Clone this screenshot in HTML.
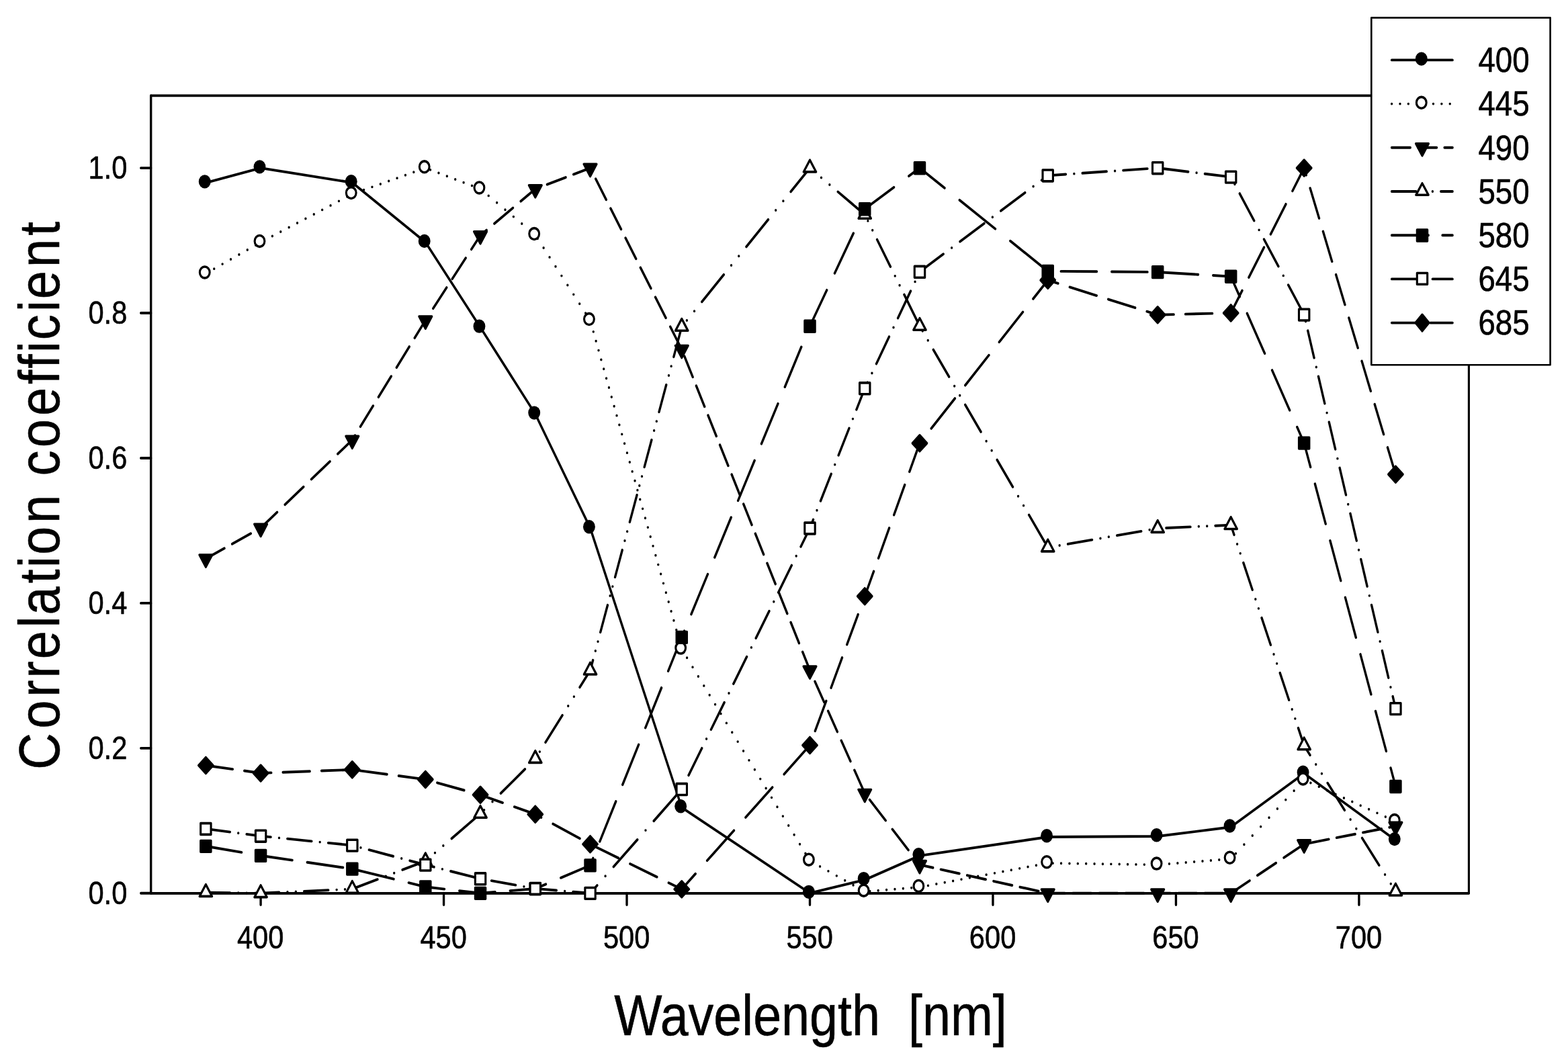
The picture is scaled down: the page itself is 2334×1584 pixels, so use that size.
<!DOCTYPE html>
<html lang="en">
<head>
<meta charset="utf-8">
<title>Correlation coefficient vs. Wavelength [nm]</title>
<style>
html,body{margin:0;padding:0;background:#fff;}
body{width:2334px;height:1584px;overflow:hidden;}
svg{display:block;}
text{font-family:"Liberation Sans",Arial,Helvetica,sans-serif;fill:#000;stroke:#000;stroke-width:0.6;stroke-linejoin:round;}
.ln{fill:none;stroke:#000;stroke-width:3.9;stroke-linecap:round;stroke-linejoin:round;}
.ax{fill:none;stroke:#000;stroke-width:3.9;stroke-linecap:round;stroke-linejoin:miter;}
.mk ellipse{fill:#000;stroke:none;}
.mk .f{fill:#000;stroke:#000;stroke-width:3.6;stroke-linejoin:round;}
.mk .o{fill:#fff;stroke:#000;stroke-width:3.6;stroke-linejoin:round;}
</style>
</head>
<body>
<svg width="2334" height="1584" viewBox="0 0 2334 1584">
<rect x="0" y="0" width="2334" height="1584" fill="#fff"/>
<g transform="scale(0.865,1)">
<rect class="ax" style="stroke-width:3.6;stroke-linejoin:round" x="259.65" y="142.4" width="2267.98" height="1187.4"/>
<path class="ax" style="stroke-width:3.8;stroke-linejoin:round" d="M259.65,142.4V1329.8H2527.63"/>
<path class="ax" d="M242.45,1329.8H259.65M242.45,1113.86H259.65M242.45,897.92H259.65M242.45,681.98H259.65M242.45,466.04H259.65M242.45,250.1H259.65M448.65,1329.8V1347M763.65,1329.8V1347M1078.64,1329.8V1347M1393.64,1329.8V1347M1708.64,1329.8V1347M2023.64,1329.8V1347M2338.63,1329.8V1347"/>
<path id="l400" class="ln" d="M354.15,272.13L448.65,250.1L606.15,271.91L732.15,360.66L826.65,487.42L921.15,616.33L1015.65,786.06L1173.14,1202.07L1393.64,1329.58L1488.14,1309.83L1582.64,1273.87L1803.14,1246.02L1992.14,1245.04L2118.13,1231.22L2244.13,1151.43L2401.63,1250.87"/>
<path id="l445" class="ln" d="M354.15,407.2h0.01M368.46,400.15h0.01M382.77,393.1h0.01M397.09,386.05h0.01M411.4,379.01h0.01M425.71,371.96h0.01M440.02,364.91h0.01M454.33,358.07h0.01M468.64,351.55h0.01M482.95,345.02h0.01M497.26,338.5h0.01M511.57,331.98h0.01M525.88,325.45h0.01M540.19,318.93h0.01M554.51,312.4h0.01M568.82,305.88h0.01M583.13,299.36h0.01M597.44,292.83h0.01M611.75,287.14h0.01M626.06,282.74h0.01M640.37,278.33h0.01M654.68,273.93h0.01M668.99,269.53h0.01M683.3,265.13h0.01M697.62,260.72h0.01M711.93,256.32h0.01M726.24,251.92h0.01M740.55,252.86h0.01M754.86,257.57h0.01M769.17,262.28h0.01M783.48,266.99h0.01M797.79,271.7h0.01M812.1,276.41h0.01M826.41,281.12h0.01M840.72,291.42h0.01M855.04,301.82h0.01M869.35,312.22h0.01M883.66,322.62h0.01M897.97,333.02h0.01M912.28,343.42h0.01M925.07,355.14h0.01M935.4,369.01h0.01M945.72,382.88h0.01M956.04,396.75h0.01M966.36,410.62h0.01M976.69,424.49h0.01M987.01,438.36h0.01M997.33,452.23h0.01M1007.65,466.1h0.01M1016.65,479.97h0.01M1021.12,493.84h0.01M1025.58,507.71h0.01M1030.04,521.58h0.01M1034.5,535.45h0.01M1038.97,549.32h0.01M1043.43,563.19h0.01M1047.89,577.06h0.01M1052.35,590.93h0.01M1056.82,604.8h0.01M1061.28,618.67h0.01M1065.74,632.54h0.01M1070.2,646.41h0.01M1074.66,660.28h0.01M1079.13,674.15h0.01M1083.59,688.02h0.01M1088.05,701.89h0.01M1092.51,715.76h0.01M1096.98,729.63h0.01M1101.44,743.5h0.01M1105.9,757.37h0.01M1110.36,771.24h0.01M1114.83,785.11h0.01M1119.29,798.98h0.01M1123.75,812.85h0.01M1128.21,826.72h0.01M1132.68,840.59h0.01M1137.14,854.46h0.01M1141.6,868.33h0.01M1146.06,882.2h0.01M1150.53,896.07h0.01M1154.99,909.94h0.01M1159.45,923.81h0.01M1163.91,937.68h0.01M1168.38,951.55h0.01M1172.84,965.42h0.01M1182.18,979.29h0.01M1191.89,993.16h0.01M1201.6,1007.03h0.01M1211.31,1020.9h0.01M1221.01,1034.77h0.01M1230.72,1048.64h0.01M1240.43,1062.51h0.01M1250.13,1076.38h0.01M1259.84,1090.25h0.01M1269.55,1104.12h0.01M1279.26,1117.99h0.01M1288.96,1131.86h0.01M1298.67,1145.73h0.01M1308.38,1159.6h0.01M1318.08,1173.47h0.01M1327.79,1187.34h0.01M1337.5,1201.21h0.01M1347.21,1215.08h0.01M1356.91,1228.95h0.01M1366.62,1242.82h0.01M1376.33,1256.69h0.01M1386.03,1270.56h0.01M1396.74,1282.94h0.01M1411.05,1289.9h0.01M1425.36,1296.87h0.01M1439.67,1303.83h0.01M1453.98,1310.8h0.01M1468.29,1317.76h0.01M1482.6,1324.73h0.01M1496.91,1326.8h0.01M1511.23,1325.79h0.01M1525.54,1324.78h0.01M1539.85,1323.76h0.01M1554.16,1322.75h0.01M1568.47,1321.73h0.01M1582.78,1320.71h0.01M1597.09,1318.39h0.01M1611.4,1316.07h0.01M1625.71,1313.75h0.01M1640.02,1311.43h0.01M1654.34,1309.11h0.01M1668.65,1306.79h0.01M1682.96,1304.47h0.01M1697.27,1302.15h0.01M1711.58,1299.83h0.01M1725.89,1297.51h0.01M1740.2,1295.19h0.01M1754.51,1292.87h0.01M1768.82,1290.55h0.01M1783.13,1288.23h0.01M1797.44,1285.92h0.01M1811.76,1285.1h0.01M1826.07,1285.28h0.01M1840.38,1285.46h0.01M1854.69,1285.64h0.01M1869,1285.82h0.01M1883.31,1286h0.01M1897.62,1286.18h0.01M1911.93,1286.36h0.01M1926.24,1286.54h0.01M1940.55,1286.72h0.01M1954.87,1286.9h0.01M1969.18,1287.08h0.01M1983.49,1287.26h0.01M1997.8,1286.97h0.01M2012.11,1285.96h0.01M2026.42,1284.96h0.01M2040.73,1283.95h0.01M2055.04,1282.95h0.01M2069.35,1281.94h0.01M2083.66,1280.94h0.01M2097.97,1279.93h0.01M2112.29,1278.93h0.01M2126.6,1270.63h0.01M2140.91,1257.3h0.01M2155.22,1243.97h0.01M2169.53,1230.64h0.01M2183.84,1217.31h0.01M2198.15,1203.98h0.01M2212.46,1190.65h0.01M2226.77,1177.32h0.01M2241.08,1163.99h0.01M2255.4,1165.56h0.01M2269.71,1171.16h0.01M2284.02,1176.76h0.01M2298.33,1182.36h0.01M2312.64,1187.97h0.01M2326.95,1193.57h0.01M2341.26,1199.17h0.01M2355.57,1204.77h0.01M2369.88,1210.37h0.01M2384.19,1215.98h0.01M2398.5,1221.58h0.01"/>
<path id="l490" class="ln" d="M354.15,831.73L386.1,816.3M399.56,809.79L431.51,794.35M444.97,787.84L448.65,786.06L476.91,762.54M490.38,751.34L522.32,724.75M535.79,713.54L567.73,686.96M581.2,675.75L606.15,654.99L610.94,648.21M620.17,635.16L642.07,604.2M651.3,591.15L673.2,560.19M682.43,547.14L704.32,516.18M713.55,503.13L732.15,476.84L735.64,472.17M745.39,459.12L768.53,428.16M778.28,415.11L801.42,384.15M811.18,371.1L826.65,350.4L837.24,342.67M850.7,332.84L882.65,309.52M896.11,299.69L921.15,281.41L928.06,279.12M941.52,274.66L973.47,264.08M986.93,259.61L1015.65,250.1L1017.47,253.23M1025.08,266.28L1043.13,297.24M1050.74,310.29L1068.79,341.25M1076.4,354.3L1094.45,385.26M1102.05,398.31L1120.11,429.27M1127.71,442.32L1145.76,473.28M1153.37,486.33L1171.42,517.29M1177.81,530.34L1192.11,561.3M1198.13,574.35L1212.43,605.31M1218.46,618.36L1232.76,649.32M1238.78,662.37L1253.08,693.33M1259.11,706.38L1273.41,737.34M1279.43,750.39L1293.73,781.35M1299.76,794.4L1314.06,825.36M1320.08,838.41L1334.38,869.37M1340.41,882.42L1354.71,913.38M1360.73,926.43L1375.03,957.39M1381.06,970.44L1393.64,997.68L1395.56,1001.4M1402.28,1014.45L1418.23,1045.41M1424.95,1058.46L1440.9,1089.42M1447.62,1102.47L1463.57,1133.43M1470.29,1146.48L1486.24,1177.44M1496.47,1190.49L1524.01,1221.45M1535.61,1234.5L1563.15,1265.46M1574.76,1278.51L1582.64,1287.37L1605.44,1291.76M1618.91,1294.35L1650.85,1300.49M1664.32,1303.09L1696.26,1309.23M1709.73,1311.82L1741.67,1317.97M1755.14,1320.56L1787.08,1326.71M1800.55,1329.3L1803.14,1329.8L1832.49,1329.8M1845.95,1329.8L1877.9,1329.8M1891.36,1329.8L1923.31,1329.8M1936.77,1329.8L1968.72,1329.8M1982.18,1329.8L1992.14,1329.8L2014.13,1329.8M2027.59,1329.8L2059.54,1329.8M2073,1329.8L2104.94,1329.8M2118.41,1329.64L2150.35,1311.08M2163.82,1303.26L2195.76,1284.7M2209.23,1276.88L2241.17,1258.32M2254.64,1254.82L2286.58,1249.41M2300.05,1247.13L2331.99,1241.72M2345.46,1239.44L2377.4,1234.03M2390.86,1231.75L2401.63,1229.93"/>
<path id="l550" class="ln" d="M354.15,1328.61L395.82,1329.14M410.13,1329.32h0.01M424.44,1329.5h0.01M438.75,1329.68L448.65,1329.8L480.41,1328.54M494.72,1327.97h0.01M509.03,1327.4h0.01M523.35,1326.83L565.01,1325.17M579.32,1324.6h0.01M593.63,1324.04h0.01M607.94,1322.94L649.61,1309.16M663.92,1304.43h0.01M678.23,1299.7h0.01M692.54,1294.96L732.15,1281.86L734.2,1280.33M748.51,1269.67h0.01M762.82,1259.01h0.01M777.14,1248.35L818.8,1217.31M833.11,1205.87h0.01M847.42,1193.47h0.01M861.73,1181.08L903.4,1145M917.71,1132.6h0.01M928.72,1119.09h0.01M938.7,1105.22L967.74,1064.84M977.71,1050.97h0.01M987.69,1037.1h0.01M997.66,1023.23L1015.65,998.22L1020.38,982.85M1024.65,968.98h0.01M1028.91,955.11h0.01M1033.18,941.24L1045.61,900.86M1049.88,886.99h0.01M1054.15,873.12h0.01M1058.42,859.25L1070.84,818.87M1075.11,805h0.01M1079.38,791.13h0.01M1083.65,777.26L1096.07,736.88M1100.34,723.01h0.01M1104.61,709.14h0.01M1108.88,695.27L1121.31,654.89M1125.57,641.02h0.01M1129.84,627.15h0.01M1134.11,613.28L1146.54,572.9M1150.81,559.03h0.01M1155.08,545.16h0.01M1159.34,531.29L1171.77,490.91M1181.92,477.04h0.01M1194.86,463.17h0.01M1207.8,449.3L1245.47,408.92M1258.41,395.05h0.01M1271.35,381.18h0.01M1284.29,367.31L1321.97,326.93M1334.91,313.06h0.01M1347.85,299.19h0.01M1360.79,285.32L1393.64,250.1L1398.97,254.01M1413.28,264.5h0.01M1427.59,275h0.01M1441.9,285.5L1483.56,316.06M1493.51,328.85h0.01M1501.4,342.72h0.01M1509.3,356.59L1532.28,396.97M1540.17,410.84h0.01M1548.06,424.71h0.01M1555.95,438.58L1578.93,478.96M1587.56,492.83h0.01M1596.84,506.7h0.01M1606.12,520.57L1633.13,560.95M1642.41,574.82h0.01M1651.68,588.69h0.01M1660.96,602.56L1687.97,642.94M1697.25,656.81h0.01M1706.53,670.68h0.01M1715.81,684.55L1742.82,724.93M1752.1,738.8h0.01M1761.37,752.67h0.01M1770.65,766.54L1797.66,806.92M1809,814.22h0.01M1823.31,812.06h0.01M1837.63,809.91L1879.29,803.62M1893.6,801.46h0.01M1907.91,799.31h0.01M1922.22,797.15L1963.89,790.86M1978.2,788.71h0.01M1992.51,786.59h0.01M2006.82,786.02L2048.48,784.38M2062.79,783.82h0.01M2077.1,783.25h0.01M2091.41,782.69L2118.13,781.64L2123.69,796.12M2129.02,809.99h0.01M2134.34,823.86h0.01M2139.66,837.73L2155.16,878.11M2160.48,891.98h0.01M2165.8,905.85h0.01M2171.12,919.72L2186.62,960.1M2191.94,973.97h0.01M2197.26,987.84h0.01M2202.59,1001.71L2218.08,1042.09M2223.41,1055.96h0.01M2228.73,1069.83h0.01M2234.05,1083.7L2244.13,1109.97L2254.36,1124.08M2264.42,1137.95h0.01M2274.47,1151.82h0.01M2284.53,1165.69L2313.8,1206.07M2323.86,1219.94h0.01M2333.92,1233.81h0.01M2343.97,1247.68L2373.25,1288.06M2383.3,1301.93h0.01M2393.36,1315.8h0.01"/>
<path id="l580" class="ln" d="M354.15,1259.73L415.69,1268.87M441.42,1272.69L448.65,1273.76L502.96,1280.58M528.69,1283.8L590.23,1291.52M615.96,1295.61L677.5,1308.68M703.23,1314.15L732.15,1320.3L764.76,1323.58M790.5,1326.17L826.65,1329.8L852.03,1327.97M877.77,1326.12L921.15,1323L939.3,1316.32M965.03,1306.85L1015.65,1288.23L1020.56,1277.64M1032.13,1252.7L1059.8,1193.06M1071.37,1168.12L1099.04,1108.48M1110.62,1083.54L1138.29,1023.9M1149.86,998.96L1173.14,948.77L1177.64,939.32M1189.52,914.38L1217.92,854.74M1229.79,829.8L1258.19,770.16M1270.07,745.22L1298.46,685.58M1310.34,660.64L1338.74,601M1350.61,576.06L1379.01,516.42M1390.88,491.48L1393.64,485.69L1422.81,431.84M1436.31,406.9L1468.61,347.26M1482.12,322.32L1488.14,311.21L1538.21,278.83M1563.94,262.19L1582.64,250.1L1625.48,279.95M1651.21,297.88L1712.75,340.76M1738.48,358.69L1800.02,401.57M1825.75,403.9L1887.29,404.32M1913.02,404.49L1974.56,404.92M2000.29,405.46L2061.83,408.68M2087.56,410.02L2118.13,411.62L2133.39,441.63M2146.06,466.57L2176.37,526.21M2189.05,551.15L2219.36,610.79M2232.04,635.73L2244.13,659.52L2255.17,695.37M2262.86,720.31L2281.23,779.95M2288.91,804.89L2307.28,864.53M2314.96,889.47L2333.33,949.11M2341.01,974.05L2359.38,1033.69M2367.06,1058.63L2385.43,1118.27M2393.11,1143.21L2401.63,1170.87"/>
<path id="l645" class="ln" d="M354.15,1233.92L395.75,1238.63M410.07,1240.25h0.01M424.38,1241.87L448.65,1244.61L465.98,1246.14M480.29,1247.41h0.01M494.6,1248.68L536.2,1252.35M550.51,1253.62h0.01M564.82,1254.89L606.15,1258.54L606.43,1258.6M620.74,1261.89h0.01M635.05,1265.18L676.65,1274.73M690.96,1278.02h0.01M705.27,1281.3L732.15,1287.48L746.87,1290.71M761.18,1293.85h0.01M775.49,1296.98L817.1,1306.11M831.41,1308.95h0.01M845.72,1311.17L887.32,1317.63M901.63,1319.86h0.01M915.94,1322.08L921.15,1322.89L957.54,1325.55M971.86,1326.6h0.01M986.17,1327.64L1015.65,1329.8L1027.6,1318.05M1041.71,1304.18h0.01M1055.82,1290.31L1096.83,1249.99M1110.94,1236.12h0.01M1125.05,1222.25L1166.06,1181.93M1177.06,1168.06h0.01M1184.94,1154.19L1207.81,1113.87M1215.68,1100h0.01M1223.56,1086.13L1246.43,1045.81M1254.3,1031.94h0.01M1262.18,1018.07L1285.05,977.75M1292.92,963.88h0.01M1300.79,950.01L1323.67,909.69M1331.54,895.82h0.01M1339.41,881.95L1362.29,841.63M1370.16,827.76h0.01M1378.03,813.89L1393.64,786.39L1399.46,773.57M1405.76,759.7h0.01M1412.05,745.83L1430.36,705.51M1436.65,691.64h0.01M1442.95,677.77L1461.25,637.45M1467.55,623.58h0.01M1473.85,609.71L1488.14,578.22L1492.95,569.39M1500.5,555.52h0.01M1508.06,541.65L1530.02,501.33M1537.57,487.46h0.01M1545.13,473.59L1567.09,433.27M1574.64,419.4h0.01M1582.19,405.53L1582.64,404.71L1623.4,378.21M1637.71,368.9h0.01M1652.02,359.6L1693.62,332.54M1707.93,323.24h0.01M1722.24,313.93L1763.84,286.88M1778.16,277.57h0.01M1792.47,268.27L1803.14,261.33L1834.07,259.49M1848.38,258.64h0.01M1862.69,257.79L1904.29,255.32M1918.6,254.47h0.01M1932.91,253.62L1974.52,251.15M1988.83,250.3h0.01M2003.14,251.27L2044.74,255.69M2059.05,257.21h0.01M2073.36,258.73L2114.96,263.15M2124.77,274.29h0.01M2133.29,288.16L2158.07,328.48M2166.59,342.35h0.01M2175.12,356.22L2199.89,396.54M2208.42,410.41h0.01M2216.94,424.28L2241.72,464.6M2246.8,478.47h0.01M2250.53,492.34L2261.36,532.66M2265.08,546.53h0.01M2268.8,560.4L2279.63,600.72M2283.36,614.59h0.01M2287.08,628.46L2297.91,668.78M2301.63,682.65h0.01M2305.36,696.52L2316.19,736.84M2319.91,750.71h0.01M2323.64,764.58L2334.46,804.9M2338.19,818.77h0.01M2341.91,832.64L2352.74,872.96M2356.46,886.83h0.01M2360.19,900.7L2371.02,941.02M2374.74,954.89h0.01M2378.47,968.76L2389.29,1009.08M2393.02,1022.95h0.01M2396.74,1036.82L2401.63,1055.02"/>
<path id="l685" class="ln" d="M354.15,1139.45L400.38,1145.1M420.53,1147.56L448.65,1151L466.75,1150.41M486.9,1149.74L533.13,1148.22M553.28,1147.56L599.5,1146.04M619.65,1147.38L665.88,1152.73M686.03,1155.06L732.15,1160.4L732.25,1160.42M752.4,1165.3L798.63,1176.5M818.78,1181.38L826.65,1183.28L865,1195.03M885.15,1201.2L921.15,1212.22L931.38,1217.04M951.53,1226.52L997.75,1248.28M1017.9,1257.67L1064.13,1277.34M1084.28,1285.92L1130.5,1305.6M1150.65,1314.18L1173.14,1323.75L1196.81,1300.75M1216.9,1281.22L1262.99,1236.42M1283.09,1216.89L1329.18,1172.09M1349.27,1152.56L1393.64,1109.43L1394.35,1107.76M1402.68,1088.23L1421.77,1043.43M1430.09,1023.9L1449.18,979.1M1457.5,959.57L1476.59,914.77M1484.91,895.24L1488.14,887.66L1503.58,850.44M1511.68,830.91L1530.26,786.11M1538.37,766.58L1556.95,721.78M1565.05,702.25L1582.64,659.85L1584.82,657.45M1602.56,637.92L1643.26,593.12M1661,573.59L1701.7,528.79M1719.44,509.26L1760.14,464.46M1777.88,444.93L1803.14,417.13L1820.68,421.92M1840.83,427.42L1887.05,440.04M1907.2,445.55L1953.43,458.17M1973.58,463.67L1992.14,468.74L2019.8,468.12M2039.95,467.67L2086.18,466.64M2106.33,466.2L2118.13,465.93L2137.61,432.57M2149.01,413.04L2175.16,368.24M2186.56,348.71L2212.72,303.91M2224.12,284.38L2244.13,250.1L2247.76,260.62M2254.51,280.15L2269.98,324.95M2276.73,344.48L2292.2,389.28M2298.94,408.81L2314.41,453.61M2321.16,473.14L2336.63,517.94M2343.37,537.47L2358.84,582.27M2365.59,601.8L2381.06,646.6M2387.8,666.13L2401.63,706.17"/>
<g id="m400" class="mk"><ellipse cx="352.3" cy="270.38" rx="10.35" ry="10.2"/><ellipse cx="446.8" cy="248.35" rx="10.35" ry="10.2"/><ellipse cx="604.3" cy="270.16" rx="10.35" ry="10.2"/><ellipse cx="730.3" cy="358.91" rx="10.35" ry="10.2"/><ellipse cx="824.8" cy="485.67" rx="10.35" ry="10.2"/><ellipse cx="919.3" cy="614.58" rx="10.35" ry="10.2"/><ellipse cx="1013.8" cy="784.31" rx="10.35" ry="10.2"/><ellipse cx="1171.29" cy="1200.32" rx="10.35" ry="10.2"/><ellipse cx="1391.79" cy="1327.83" rx="10.35" ry="10.2"/><ellipse cx="1486.29" cy="1308.08" rx="10.35" ry="10.2"/><ellipse cx="1580.79" cy="1272.12" rx="10.35" ry="10.2"/><ellipse cx="1801.29" cy="1244.27" rx="10.35" ry="10.2"/><ellipse cx="1990.29" cy="1243.29" rx="10.35" ry="10.2"/><ellipse cx="2116.28" cy="1229.47" rx="10.35" ry="10.2"/><ellipse cx="2242.28" cy="1149.68" rx="10.35" ry="10.2"/><ellipse cx="2399.78" cy="1249.12" rx="10.35" ry="10.2"/></g>
<g id="m445" class="mk"><ellipse class="o" cx="352.3" cy="405.45" rx="8.55" ry="8.45"/><ellipse class="o" cx="446.8" cy="358.91" rx="8.55" ry="8.45"/><ellipse class="o" cx="604.3" cy="287.11" rx="8.55" ry="8.45"/><ellipse class="o" cx="730.3" cy="248.35" rx="8.55" ry="8.45"/><ellipse class="o" cx="824.8" cy="279.45" rx="8.55" ry="8.45"/><ellipse class="o" cx="919.3" cy="348.11" rx="8.55" ry="8.45"/><ellipse class="o" cx="1013.8" cy="475.09" rx="8.55" ry="8.45"/><ellipse class="o" cx="1171.29" cy="964.62" rx="8.55" ry="8.45"/><ellipse class="o" cx="1391.79" cy="1279.68" rx="8.55" ry="8.45"/><ellipse class="o" cx="1486.29" cy="1325.67" rx="8.55" ry="8.45"/><ellipse class="o" cx="1580.79" cy="1318.98" rx="8.55" ry="8.45"/><ellipse class="o" cx="1801.29" cy="1283.24" rx="8.55" ry="8.45"/><ellipse class="o" cx="1990.29" cy="1285.62" rx="8.55" ry="8.45"/><ellipse class="o" cx="2116.28" cy="1276.76" rx="8.55" ry="8.45"/><ellipse class="o" cx="2242.28" cy="1159.4" rx="8.55" ry="8.45"/><ellipse class="o" cx="2399.78" cy="1221.05" rx="8.55" ry="8.45"/></g>
<g id="m490" class="mk"><polygon class="f" points="343.2,826.03 365.1,826.03 354.15,844.13"/><polygon class="f" points="437.7,780.36 459.6,780.36 448.65,798.46"/><polygon class="f" points="595.2,649.29 617.1,649.29 606.15,667.39"/><polygon class="f" points="721.2,471.14 743.1,471.14 732.15,489.24"/><polygon class="f" points="815.7,344.7 837.6,344.7 826.65,362.8"/><polygon class="f" points="910.2,275.71 932.1,275.71 921.15,293.81"/><polygon class="f" points="1004.7,244.4 1026.6,244.4 1015.65,262.5"/><polygon class="f" points="1162.19,514.54 1184.09,514.54 1173.14,532.64"/><polygon class="f" points="1382.69,991.98 1404.59,991.98 1393.64,1010.08"/><polygon class="f" points="1477.19,1175.43 1499.09,1175.43 1488.14,1193.53"/><polygon class="f" points="1571.69,1281.67 1593.59,1281.67 1582.64,1299.77"/><polygon class="f" points="1792.19,1324.1 1814.09,1324.1 1803.14,1342.2"/><polygon class="f" points="1981.19,1324.1 2003.09,1324.1 1992.14,1342.2"/><polygon class="f" points="2107.18,1324.1 2129.08,1324.1 2118.13,1342.2"/><polygon class="f" points="2233.18,1250.9 2255.08,1250.9 2244.13,1269"/><polygon class="f" points="2390.68,1224.23 2412.58,1224.23 2401.63,1242.33"/></g>
<g id="m550" class="mk"><polygon class="o" points="343.45,1334.41 364.85,1334.41 354.15,1316.71"/><polygon class="o" points="437.95,1335.6 459.35,1335.6 448.65,1317.9"/><polygon class="o" points="595.45,1329.34 616.85,1329.34 606.15,1311.64"/><polygon class="o" points="721.45,1287.66 742.85,1287.66 732.15,1269.96"/><polygon class="o" points="815.95,1217.26 837.35,1217.26 826.65,1199.56"/><polygon class="o" points="910.45,1135.42 931.85,1135.42 921.15,1117.72"/><polygon class="o" points="1004.95,1004.02 1026.35,1004.02 1015.65,986.32"/><polygon class="o" points="1162.44,492.25 1183.84,492.25 1173.14,474.55"/><polygon class="o" points="1382.94,255.9 1404.34,255.9 1393.64,238.2"/><polygon class="o" points="1477.44,325.22 1498.84,325.22 1488.14,307.52"/><polygon class="o" points="1571.94,491.27 1593.34,491.27 1582.64,473.57"/><polygon class="o" points="1792.44,820.91 1813.84,820.91 1803.14,803.21"/><polygon class="o" points="1981.44,792.4 2002.84,792.4 1992.14,774.7"/><polygon class="o" points="2107.43,787.44 2128.83,787.44 2118.13,769.74"/><polygon class="o" points="2233.43,1115.77 2254.83,1115.77 2244.13,1098.07"/><polygon class="o" points="2390.93,1333.01 2412.33,1333.01 2401.63,1315.31"/></g>
<g id="m580" class="mk"><rect class="f" x="345.25" y="1251.43" width="17.8" height="16.8"/><rect class="f" x="439.75" y="1265.46" width="17.8" height="16.8"/><rect class="f" x="597.25" y="1285.22" width="17.8" height="16.8"/><rect class="f" x="723.25" y="1312" width="17.8" height="16.8"/><rect class="f" x="817.75" y="1321.5" width="17.8" height="16.8"/><rect class="f" x="912.25" y="1314.7" width="17.8" height="16.8"/><rect class="f" x="1006.75" y="1279.93" width="17.8" height="16.8"/><rect class="f" x="1164.24" y="940.47" width="17.8" height="16.8"/><rect class="f" x="1384.74" y="477.39" width="17.8" height="16.8"/><rect class="f" x="1479.24" y="302.91" width="17.8" height="16.8"/><rect class="f" x="1573.74" y="241.8" width="17.8" height="16.8"/><rect class="f" x="1794.24" y="395.44" width="17.8" height="16.8"/><rect class="f" x="1983.24" y="396.74" width="17.8" height="16.8"/><rect class="f" x="2109.23" y="403.32" width="17.8" height="16.8"/><rect class="f" x="2235.23" y="651.22" width="17.8" height="16.8"/><rect class="f" x="2392.73" y="1162.57" width="17.8" height="16.8"/></g>
<g id="m645" class="mk"><rect class="o" x="345.25" y="1225.62" width="17.8" height="16.8"/><rect class="o" x="439.75" y="1236.31" width="17.8" height="16.8"/><rect class="o" x="597.25" y="1250.24" width="17.8" height="16.8"/><rect class="o" x="723.25" y="1279.18" width="17.8" height="16.8"/><rect class="o" x="817.75" y="1299.91" width="17.8" height="16.8"/><rect class="o" x="912.25" y="1314.59" width="17.8" height="16.8"/><rect class="o" x="1006.75" y="1321.5" width="17.8" height="16.8"/><rect class="o" x="1164.24" y="1166.67" width="17.8" height="16.8"/><rect class="o" x="1384.74" y="778.09" width="17.8" height="16.8"/><rect class="o" x="1479.24" y="569.92" width="17.8" height="16.8"/><rect class="o" x="1573.74" y="396.41" width="17.8" height="16.8"/><rect class="o" x="1794.24" y="253.03" width="17.8" height="16.8"/><rect class="o" x="1983.24" y="241.8" width="17.8" height="16.8"/><rect class="o" x="2109.23" y="255.19" width="17.8" height="16.8"/><rect class="o" x="2235.23" y="460.22" width="17.8" height="16.8"/><rect class="o" x="2392.73" y="1046.72" width="17.8" height="16.8"/></g>
<g id="m685" class="mk"><polygon class="f" points="341.65,1139.45 354.15,1127.5 366.65,1139.45 354.15,1151.4"/><polygon class="f" points="436.15,1151 448.65,1139.05 461.15,1151 448.65,1162.95"/><polygon class="f" points="593.65,1145.82 606.15,1133.87 618.65,1145.82 606.15,1157.77"/><polygon class="f" points="719.65,1160.4 732.15,1148.45 744.65,1160.4 732.15,1172.35"/><polygon class="f" points="814.15,1183.28 826.65,1171.33 839.15,1183.28 826.65,1195.23"/><polygon class="f" points="908.65,1212.22 921.15,1200.27 933.65,1212.22 921.15,1224.17"/><polygon class="f" points="1003.15,1256.7 1015.65,1244.75 1028.15,1256.7 1015.65,1268.65"/><polygon class="f" points="1160.64,1323.75 1173.14,1311.8 1185.64,1323.75 1173.14,1335.7"/><polygon class="f" points="1381.14,1109.43 1393.64,1097.48 1406.14,1109.43 1393.64,1121.38"/><polygon class="f" points="1475.64,887.66 1488.14,875.71 1500.64,887.66 1488.14,899.61"/><polygon class="f" points="1570.14,659.85 1582.64,647.9 1595.14,659.85 1582.64,671.8"/><polygon class="f" points="1790.64,417.13 1803.14,405.18 1815.64,417.13 1803.14,429.08"/><polygon class="f" points="1979.64,468.74 1992.14,456.79 2004.64,468.74 1992.14,480.69"/><polygon class="f" points="2105.63,465.93 2118.13,453.98 2130.63,465.93 2118.13,477.88"/><polygon class="f" points="2231.63,250.1 2244.13,238.15 2256.63,250.1 2244.13,262.05"/><polygon class="f" points="2389.13,706.17 2401.63,694.22 2414.13,706.17 2401.63,718.12"/></g>
</g><rect x="2041.3" y="26.35" width="266.3" height="516.95" fill="#fff" stroke="#000" stroke-width="2.6" stroke-linejoin="round"/><g transform="scale(0.865,1)">
<path class="ln" d="M2394.91,89.4L2499.54,89.4"/>
<g class="mk"><ellipse cx="2446.01" cy="87.65" rx="10.35" ry="10.2"/></g>
<path class="ln" d="M2394.91,154.6h0.01M2409.22,154.6h0.01M2423.54,154.6h0.01M2437.85,154.6h0.01M2452.16,154.6h0.01M2466.47,154.6h0.01M2480.78,154.6h0.01M2495.09,154.6h0.01"/>
<g class="mk"><ellipse class="o" cx="2446.01" cy="152.85" rx="8.55" ry="8.45"/></g>
<path class="ln" d="M2394.91,219.8L2426.86,219.8M2440.32,219.8L2472.27,219.8M2485.73,219.8L2499.54,219.8"/>
<g class="mk"><polygon class="f" points="2436.45,213.7 2458.35,213.7 2447.4,231.8"/></g>
<path class="ln" d="M2394.91,285L2436.58,285M2450.89,285h0.01M2465.2,285h0.01M2479.51,285L2499.54,285"/>
<g class="mk"><polygon class="o" points="2436.7,290.3 2458.1,290.3 2447.4,272.9"/></g>
<path class="ln" d="M2394.91,350.2L2458.06,350.2M2482.2,350.2L2499.54,350.2"/>
<g class="mk"><rect class="f" x="2438.5" y="342.1" width="17.8" height="16.8"/></g>
<path class="ln" d="M2394.91,415.4L2436.52,415.4M2450.83,415.4h0.01M2465.14,415.4L2499.54,415.4"/>
<g class="mk"><rect class="o" x="2438.5" y="406.5" width="17.8" height="16.8"/></g>
<path class="ln" d="M2394.91,480.6L2441.14,480.6M2461.29,480.6L2499.54,480.6"/>
<g class="mk"><polygon class="f" points="2435.9,480.6 2447.4,468.35 2458.9,480.6 2447.4,492.85"/></g>
</g>
<text transform="translate(189.3,1345.75) scale(0.874,1)" font-size="47.6" text-anchor="end">0.0</text>
<text transform="translate(189.3,1129.81) scale(0.874,1)" font-size="47.6" text-anchor="end">0.2</text>
<text transform="translate(189.3,913.87) scale(0.874,1)" font-size="47.6" text-anchor="end">0.4</text>
<text transform="translate(189.3,697.93) scale(0.874,1)" font-size="47.6" text-anchor="end">0.6</text>
<text transform="translate(189.3,481.99) scale(0.874,1)" font-size="47.6" text-anchor="end">0.8</text>
<text transform="translate(189.3,266.05) scale(0.874,1)" font-size="47.6" text-anchor="end">1.0</text>
<text transform="translate(387.68,1412.4) scale(0.874,1)" font-size="47.6" text-anchor="middle">400</text>
<text transform="translate(660.16,1412.4) scale(0.874,1)" font-size="47.6" text-anchor="middle">450</text>
<text transform="translate(932.63,1412.4) scale(0.874,1)" font-size="47.6" text-anchor="middle">500</text>
<text transform="translate(1205.1,1412.4) scale(0.874,1)" font-size="47.6" text-anchor="middle">550</text>
<text transform="translate(1477.57,1412.4) scale(0.874,1)" font-size="47.6" text-anchor="middle">600</text>
<text transform="translate(1750.04,1412.4) scale(0.874,1)" font-size="47.6" text-anchor="middle">650</text>
<text transform="translate(2022.52,1412.4) scale(0.874,1)" font-size="47.6" text-anchor="middle">700</text>
<text transform="translate(2238.5,107.1) scale(0.8735,1)" font-size="52.3" text-anchor="middle">400</text>
<text transform="translate(2238.5,172.3) scale(0.8735,1)" font-size="52.3" text-anchor="middle">445</text>
<text transform="translate(2238.5,237.5) scale(0.8735,1)" font-size="52.3" text-anchor="middle">490</text>
<text transform="translate(2238.5,302.7) scale(0.8735,1)" font-size="52.3" text-anchor="middle">550</text>
<text transform="translate(2238.5,367.9) scale(0.8735,1)" font-size="52.3" text-anchor="middle">580</text>
<text transform="translate(2238.5,433.1) scale(0.8735,1)" font-size="52.3" text-anchor="middle">645</text>
<text transform="translate(2238.5,498.3) scale(0.8735,1)" font-size="52.3" text-anchor="middle">685</text>
<text transform="translate(1206.5,1541.3) scale(0.8884,1)" font-size="85" text-anchor="middle" xml:space="preserve" style="white-space:pre">Wavelength  [nm]</text>
<text transform="translate(87.9,1145.8) rotate(-90) scale(0.8925,1)" font-size="85" x="0 68.46 121.18 152.75 184.32 237.05 258.11 310.83 337.17 358.23 410.95 463.68 490.02 537.42 590.14 642.86 669.2 695.54 716.6 764 785.06 837.79 890.51" xml:space="preserve" style="white-space:pre">Correlation coefficient</text>
</svg>
</body>
</html>
